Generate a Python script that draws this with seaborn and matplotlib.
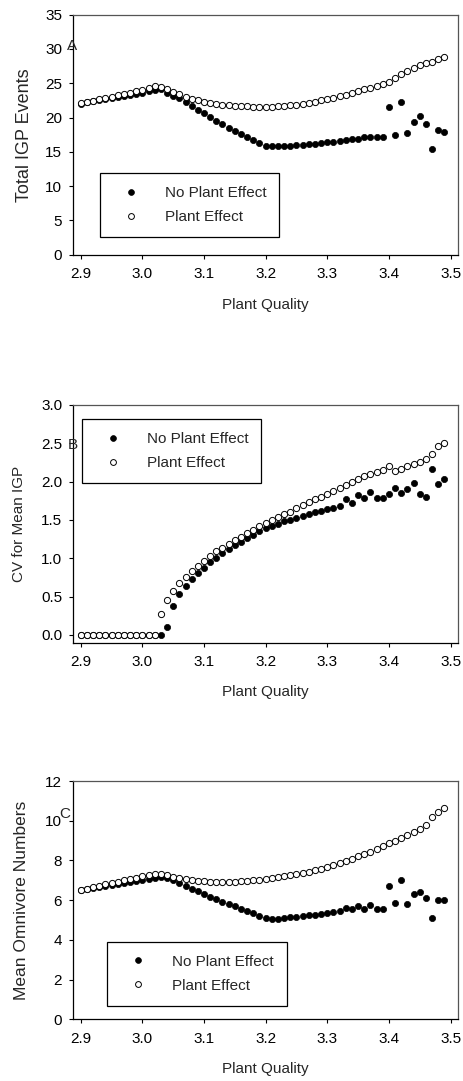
import numpy as np
import pandas as pd
import matplotlib
matplotlib.use("Agg")
import matplotlib.pyplot as plt
import seaborn as sns
from matplotlib.lines import Line2D

# ---------------- data ----------------
plant_quality = [2.90, 2.91, 2.92, 2.93, 2.94, 2.95, 2.96, 2.97, 2.98, 2.99,
                 3.00, 3.01, 3.02, 3.03, 3.04, 3.05, 3.06, 3.07, 3.08, 3.09,
                 3.10, 3.11, 3.12, 3.13, 3.14, 3.15, 3.16, 3.17, 3.18, 3.19,
                 3.20, 3.21, 3.22, 3.23, 3.24, 3.25, 3.26, 3.27, 3.28, 3.29,
                 3.30, 3.31, 3.32, 3.33, 3.34, 3.35, 3.36, 3.37, 3.38, 3.39,
                 3.40, 3.41, 3.42, 3.43, 3.44, 3.45, 3.46, 3.47, 3.48, 3.49]

igp_no_plant = [22.0, 22.2, 22.35, 22.5, 22.7, 22.85, 23.0, 23.15, 23.3, 23.45,
                23.6, 23.8, 23.95, 24.1, 23.6, 23.2, 22.9, 22.3, 21.7, 21.1,
                20.6, 20.1, 19.5, 19.0, 18.5, 18.0, 17.6, 17.1, 16.7, 16.3,
                15.9, 15.8, 15.8, 15.85, 15.9, 16.0, 16.05, 16.1, 16.2, 16.3,
                16.4, 16.5, 16.6, 16.7, 16.8, 16.9, 17.2, 17.1, 17.1, 17.2,
                21.6, 17.45, 22.3, 17.75, 19.3, 20.2, 19.0, 15.4, 18.2, 17.9]
igp_plant = [22.05, 22.25, 22.45, 22.65, 22.85, 23.05, 23.25, 23.45, 23.65, 23.85,
             24.05, 24.3, 24.6, 24.4, 24.1, 23.7, 23.4, 23.0, 22.75, 22.5,
             22.3, 22.1, 22.0, 21.9, 21.8, 21.75, 21.7, 21.65, 21.6, 21.6,
             21.6, 21.6, 21.65, 21.7, 21.8, 21.9, 22.0, 22.1, 22.3, 22.5,
             22.7, 22.9, 23.1, 23.35, 23.6, 23.85, 24.1, 24.35, 24.6, 24.9,
             25.2, 25.8, 26.35, 26.8, 27.2, 27.6, 27.9, 28.15, 28.5, 28.8]

cv_no_plant = [0, 0, 0, 0, 0, 0, 0, 0, 0, 0,
               0, 0, 0, 0, 0.10, 0.38, 0.53, 0.64, 0.73, 0.81,
               0.88, 0.95, 1.01, 1.07, 1.12, 1.17, 1.21, 1.27, 1.31, 1.35,
               1.39, 1.42, 1.45, 1.48, 1.50, 1.53, 1.55, 1.58, 1.60, 1.62,
               1.64, 1.66, 1.68, 1.77, 1.72, 1.82, 1.78, 1.87, 1.78, 1.78,
               1.84, 1.92, 1.85, 1.90, 1.98, 1.84, 1.80, 2.16, 1.97, 2.03]
cv_plant = [0, 0, 0, 0, 0, 0, 0, 0, 0, 0,
            0, 0, 0, 0.27, 0.45, 0.58, 0.68, 0.76, 0.84, 0.90,
            0.97, 1.03, 1.09, 1.14, 1.19, 1.24, 1.28, 1.33, 1.37, 1.42,
            1.46, 1.50, 1.54, 1.58, 1.61, 1.65, 1.69, 1.73, 1.77, 1.80,
            1.84, 1.88, 1.92, 1.96, 1.99, 2.03, 2.07, 2.10, 2.13, 2.15,
            2.21, 2.14, 2.17, 2.21, 2.23, 2.25, 2.29, 2.36, 2.47, 2.50]

omni_no_plant = [6.52, 6.57, 6.62, 6.67, 6.72, 6.77, 6.82, 6.87, 6.92, 6.97,
                 7.02, 7.07, 7.12, 7.17, 7.12, 7.0, 6.87, 6.73, 6.58, 6.45,
                 6.32, 6.18, 6.05, 5.93, 5.82, 5.70, 5.57, 5.45, 5.33, 5.22,
                 5.12, 5.05, 5.07, 5.10, 5.13, 5.17, 5.20, 5.23, 5.27, 5.32,
                 5.37, 5.40, 5.45, 5.60, 5.53, 5.73, 5.57, 5.75, 5.55, 5.57,
                 6.70, 5.85, 7.02, 5.82, 6.33, 6.43, 6.13, 5.12, 6.00, 6.00]
omni_plant = [6.53, 6.58, 6.67, 6.73, 6.80, 6.87, 6.93, 7.00, 7.07, 7.13,
              7.22, 7.28, 7.33, 7.33, 7.25, 7.17, 7.10, 7.05, 7.00, 6.97,
              6.95, 6.93, 6.92, 6.92, 6.93, 6.93, 6.95, 6.97, 7.00, 7.03,
              7.07, 7.12, 7.15, 7.20, 7.25, 7.30, 7.37, 7.43, 7.50, 7.58,
              7.67, 7.77, 7.87, 7.97, 8.08, 8.20, 8.32, 8.45, 8.60, 8.75,
              8.88, 8.98, 9.12, 9.27, 9.43, 9.60, 9.78, 10.2, 10.45, 10.62]

x_ticks = [2.9, 3.0, 3.1, 3.2, 3.3, 3.4, 3.5]
series_labels = ["No Plant Effect", "Plant Effect"]

# ---------------- style ----------------
sns.set_style("ticks")
plt.rcParams["font.family"] = ["Liberation Sans", "DejaVu Sans"]
plt.rcParams["font.size"] = 11

fig = plt.figure(figsize=(4.64, 10.81), dpi=100)

panels = [
    dict(rect=[0.158, 0.7644, 0.829, 0.2220], no=igp_no_plant, pe=igp_plant,
         ylabel="Total IGP Events", ylsize=13, ylx=-0.105,
         ylim=(0, 35), yticks=[0, 5, 10, 15, 20, 25, 30, 35],
         fmt="{:.0f}", letter="A", lpos=(-0.017, 0.87), leg=(0.069, 0.339)),
    dict(rect=[0.158, 0.4055, 0.829, 0.2199], no=cv_no_plant, pe=cv_plant,
         ylabel="CV for Mean IGP", ylsize=11, ylx=-0.122,
         ylim=(-0.1, 3.0), yticks=[0.0, 0.5, 1.0, 1.5, 2.0, 2.5, 3.0],
         fmt="{:.1f}", letter="B", lpos=(-0.014, 0.83), leg=(0.022, 0.941)),
    dict(rect=[0.158, 0.0571, 0.829, 0.2204], no=omni_no_plant, pe=omni_plant,
         ylabel="Mean Omnivore Numbers", ylsize=12.5, ylx=-0.114,
         ylim=(0, 12), yticks=[0, 2, 4, 6, 8, 10, 12],
         fmt="{:.0f}", letter="C", lpos=(-0.037, 0.86), leg=(0.088, 0.326)),
]

for p in panels:
    ax = fig.add_axes(p["rect"])
    df = pd.DataFrame({"q": plant_quality, "no": p["no"], "pe": p["pe"]})
    sns.scatterplot(data=df, x="q", y="no", ax=ax, color="black", edgecolor="black",
                    s=20, linewidth=0.5, zorder=3, legend=False)
    sns.scatterplot(data=df, x="q", y="pe", ax=ax, color="white", edgecolor="black",
                    s=20, linewidth=0.7, zorder=4, legend=False)
    ax.set_xlim(2.888, 3.512)
    ax.set_ylim(*p["ylim"])
    ax.set_xticks(x_ticks)
    ax.set_xticklabels([f"{t:.1f}" for t in x_ticks])
    ax.set_yticks(p["yticks"])
    ax.set_yticklabels([p["fmt"].format(t) for t in p["yticks"]])
    ax.tick_params(direction="out", length=3, width=0.8, pad=5, labelsize=11,
                   colors="black")
    ax.tick_params(axis="x", pad=6)
    for side in ["left", "bottom"]:
        ax.spines[side].set_color("black")
        ax.spines[side].set_linewidth(0.9)
    for side in ["top", "right"]:
        ax.spines[side].set_visible(True)
        ax.spines[side].set_color("#555555")
        ax.spines[side].set_linewidth(0.9)
    ax.set_xlabel("Plant Quality", fontsize=11)
    ax.set_ylabel(p["ylabel"], fontsize=p["ylsize"])
    ax.xaxis.set_label_coords(0.5, -0.18)
    ax.yaxis.set_label_coords(p["ylx"], 0.5)
    ax.text(p["lpos"][0], p["lpos"][1], p["letter"], transform=ax.transAxes,
            ha="left", va="center", fontsize=11)
    handles = [
        Line2D([], [], marker="o", linestyle="none", markersize=4.2,
               markerfacecolor="black", markeredgecolor="black", markeredgewidth=0.5),
        Line2D([], [], marker="o", linestyle="none", markersize=4.2,
               markerfacecolor="white", markeredgecolor="black", markeredgewidth=0.7),
    ]
    leg = ax.legend(handles, series_labels, loc="upper left",
                    bbox_to_anchor=p["leg"], bbox_transform=ax.transAxes,
                    borderaxespad=0, frameon=True, fancybox=False, shadow=False,
                    borderpad=0.85, labelspacing=0.65, handlelength=2.4,
                    handletextpad=1.0, fontsize=11)
    leg.get_frame().set_edgecolor("black")
    leg.get_frame().set_linewidth(0.9)
    leg.get_frame().set_facecolor("white")
    leg.get_frame().set_alpha(1)
    leg.set_zorder(5)

fig.savefig("out.png", dpi=100)
